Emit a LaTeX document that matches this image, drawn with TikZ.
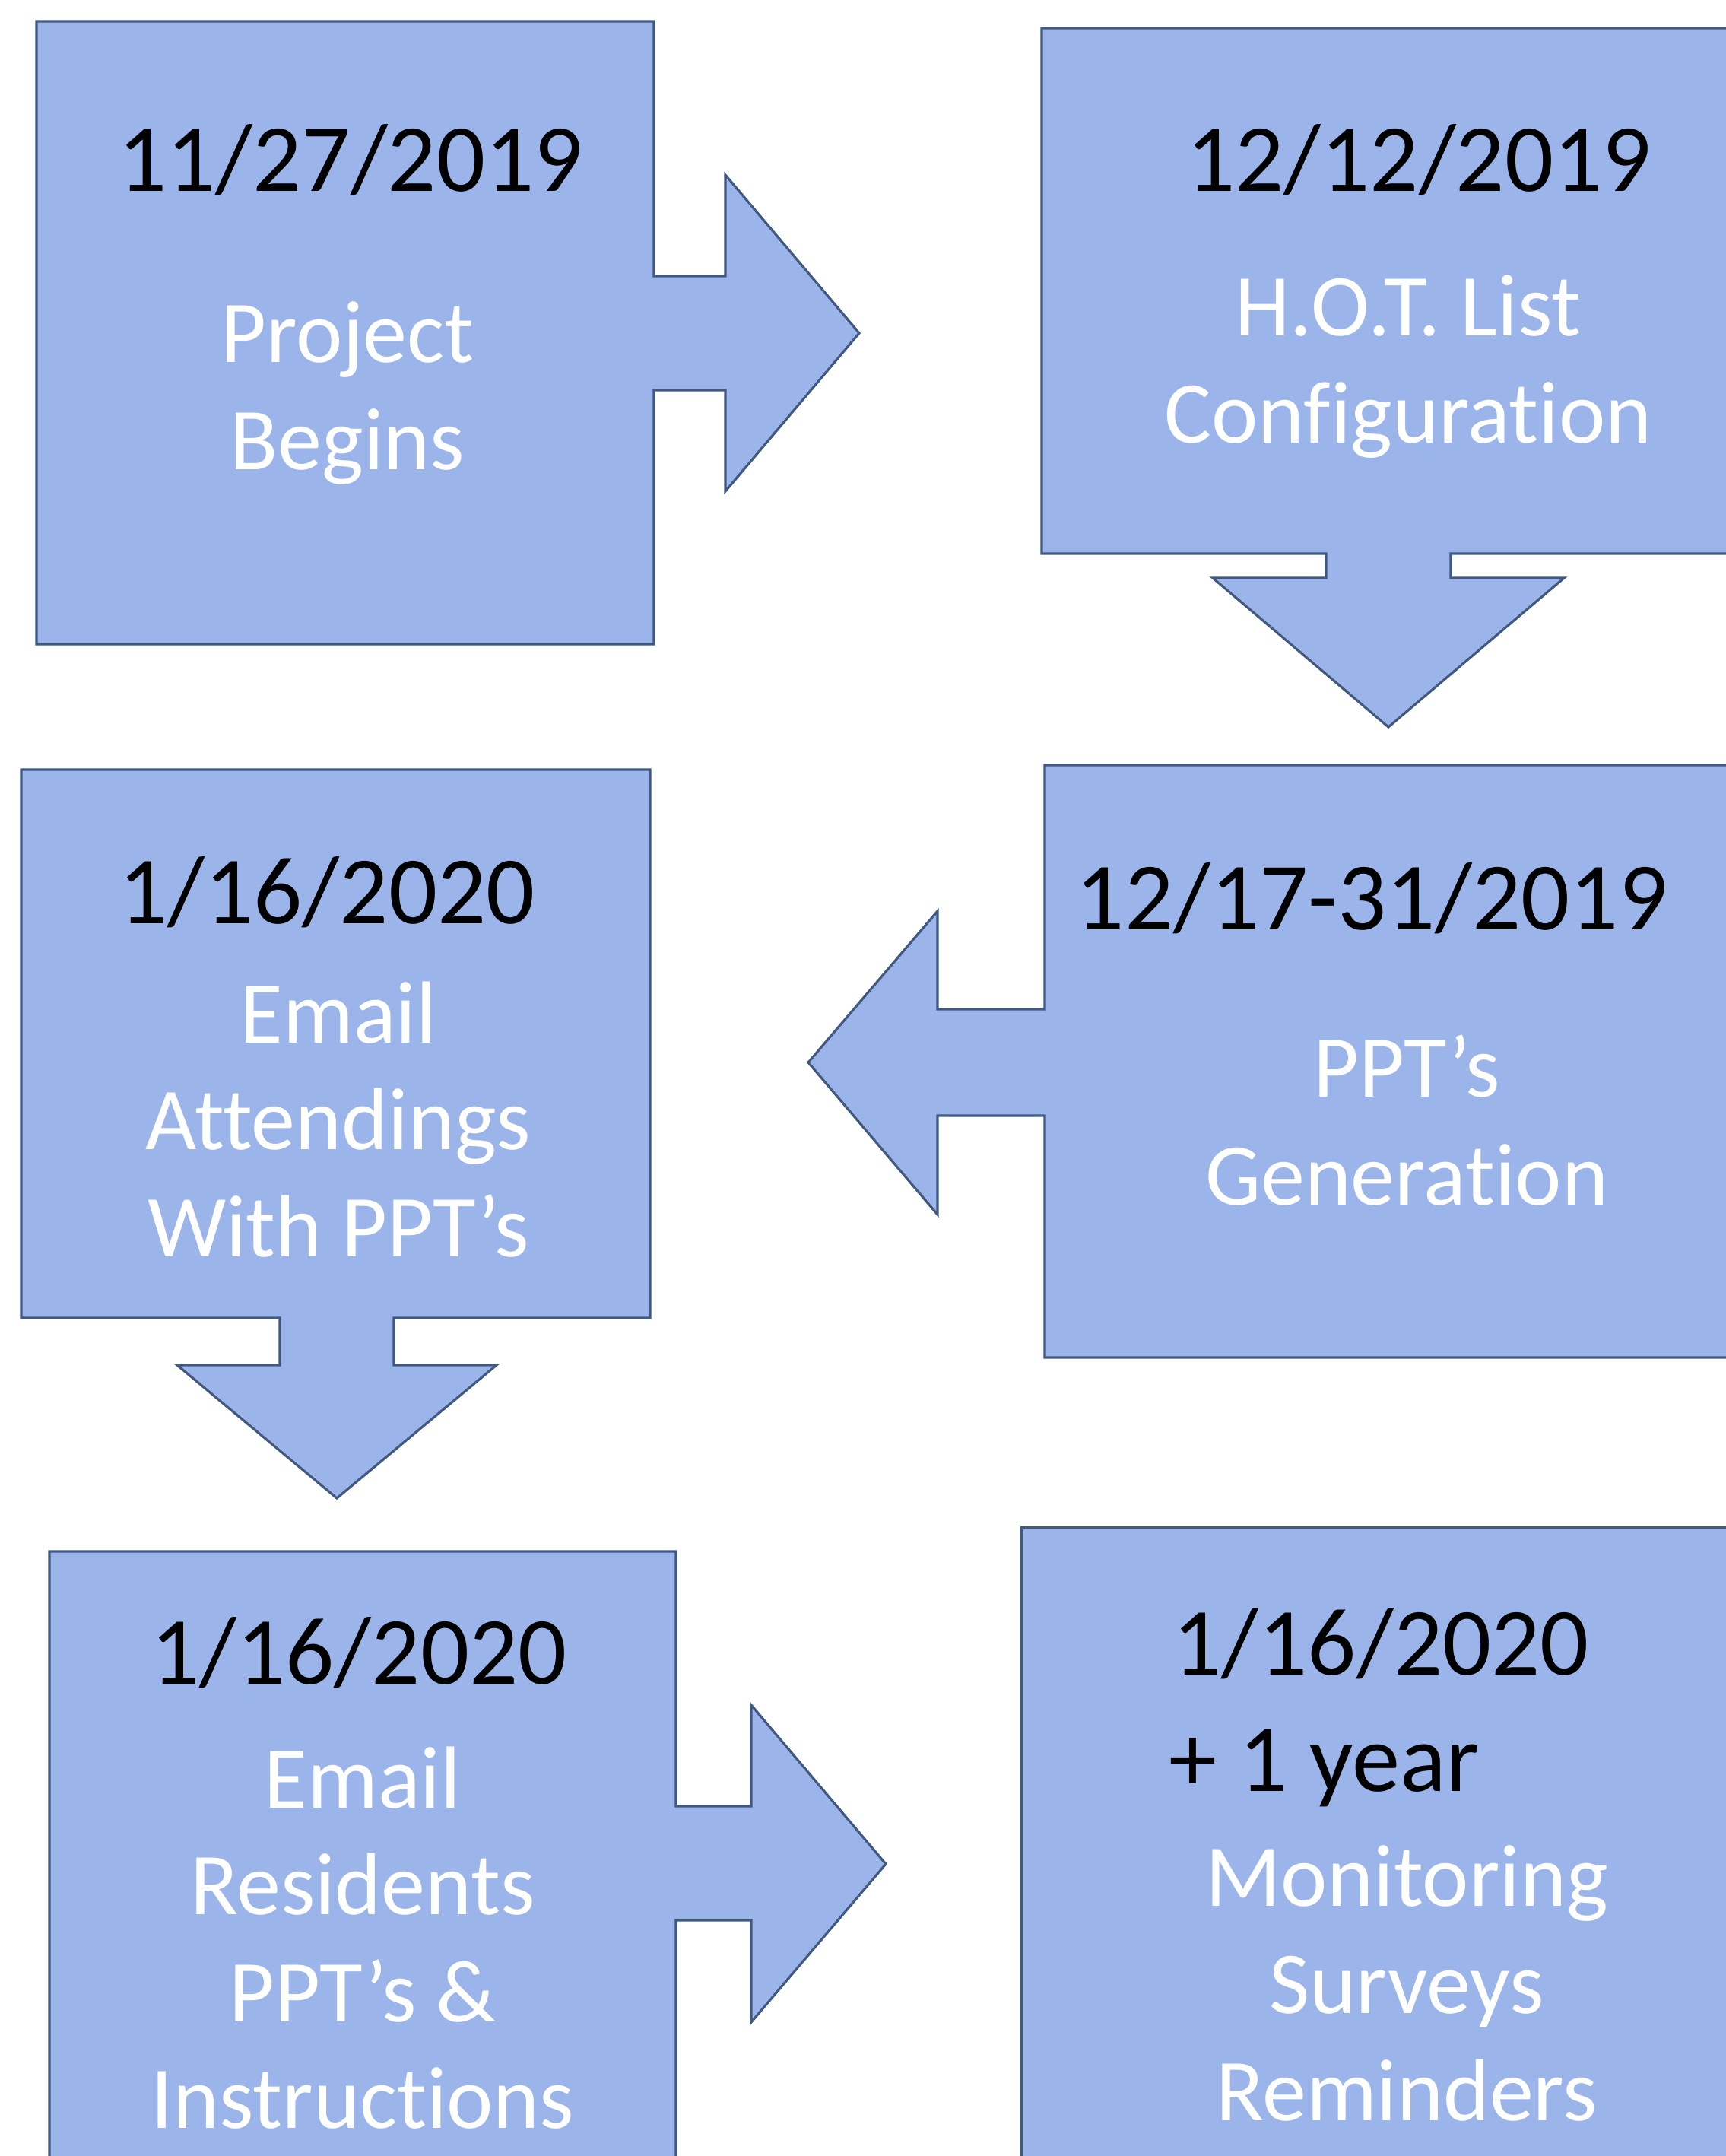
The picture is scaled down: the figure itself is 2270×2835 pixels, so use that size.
\documentclass[tikz,border=0pt]{standalone}
\usepackage{fontspec}
\setmainfont{Carlito}[Ligatures={NoCommon,TeX}]

\definecolor{stepfill}{RGB}{155,181,234}
\definecolor{stepline}{RGB}{65,88,127}

\begin{document}
\begin{tikzpicture}[x=0.01cm,y=-0.01cm,
    callout/.style={fill=stepfill,draw=stepline,line width=0.9pt,line join=miter},
    datetext/.style={inner sep=0pt,anchor=base,text=black,font=\fontsize{36}{43}\selectfont},
    steptext/.style={inner sep=0pt,anchor=base,text=white,font=\fontsize{33}{40}\selectfont}]
    \useasboundingbox (0,0) rectangle (2270,2835);
    \clip (0,0) rectangle (2270,2835);
    %
    \draw[callout] (48,28) -- (860,28) -- (860,363) -- (954,363) -- (954,230) -- (1130,438)
        -- (954,646) -- (954,513) -- (860,513) -- (860,847) -- (48,847) -- cycle;
    \draw[callout] (1370,37) -- (2300,37) -- (2300,728) -- (1908,728) -- (1908,760) -- (2057,760)
        -- (1826,956) -- (1595,760) -- (1744,760) -- (1744,728) -- (1370,728) -- cycle;
    \draw[callout] (1374,1006) -- (2300,1006) -- (2300,1785) -- (1374,1785) -- (1374,1467)
        -- (1233,1467) -- (1233,1597) -- (1063,1397) -- (1233,1198) -- (1233,1327) -- (1374,1327) -- cycle;
    \draw[callout] (28,1012) -- (855,1012) -- (855,1733) -- (518,1733) -- (518,1795) -- (653,1795)
        -- (443,1970) -- (233,1795) -- (368,1795) -- (368,1733) -- (28,1733) -- cycle;
    \draw[callout] (65,2040) -- (889,2040) -- (889,2375) -- (988,2375) -- (988,2242) -- (1165,2451)
        -- (988,2659) -- (988,2525) -- (889,2525) -- (889,2870) -- (65,2870) -- cycle;
    \draw[callout] (1344,2009) rectangle (2300,2870);
    %
    \node[datetext] (start) at (461,251) {11/27/2019};
    \node[steptext] (start1) at (457,476) {Project};
    \node[steptext] (start2) at (457,617) {Begins};
    %
    \node[datetext] (hot) at (1866,251) {12/12/2019};
    \node[steptext] (hot1) at (1852,441) {H.O.T. List};
    \node[steptext] (hot2) at (1852,582) {Configuration};
    %
    \node[datetext] (ppt) at (1804,1222) {12/17-31/2019};
    \node[steptext] (ppt1) at (1850,1442) {PPT’s};
    \node[steptext] (ppt2) at (1850,1584) {Generation};
    %
    \node[datetext] (att) at (430,1214) {1/16/2020};
    \node[steptext] (att1) at (445,1371) {Email};
    \node[steptext] (att2) at (445,1511) {Attendings};
    \node[steptext] (att3) at (445,1652) {With PPT’s};
    %
    \node[datetext] (res) at (472,2214) {1/16/2020};
    \node[steptext] (res1) at (477,2377) {Email};
    \node[steptext] (res2) at (477,2517) {Residents};
    \node[steptext] (res3) at (477,2658) {PPT’s \&};
    \node[steptext] (res4) at (477,2798) {Instructions};
    %
    \node[datetext,anchor=base west] (mon) at (1542,2202) {1/16/2020};
    \node[datetext,anchor=base west] (year) at (1537,2355) {+ 1 year};
    \node[steptext] (mon1) at (1850,2506) {Monitoring};
    \node[steptext] (mon2) at (1850,2647) {Surveys};
    \node[steptext] (mon3) at (1850,2788) {Reminders};
\end{tikzpicture}
\end{document}
